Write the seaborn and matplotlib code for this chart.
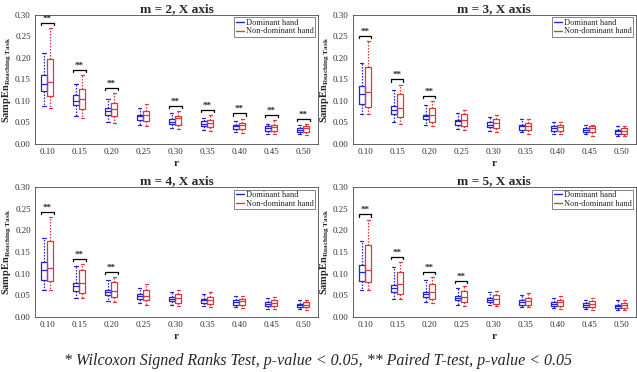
import matplotlib

matplotlib.use("Agg")
import matplotlib.pyplot as plt
import numpy as np
import pandas as pd
import seaborn as sns
from matplotlib.lines import Line2D

sns.set_theme(style="white")
plt.rcParams["font.family"] = ["Liberation Serif", "DejaVu Serif"]
plt.rcParams["mathtext.fontset"] = "custom"
plt.rcParams["mathtext.rm"] = "Liberation Serif"
plt.rcParams["mathtext.bf"] = "Liberation Serif:bold"
plt.rcParams["mathtext.it"] = "Liberation Serif:italic"

R_VALUES = ["0.10", "0.15", "0.20", "0.25", "0.30", "0.35", "0.40", "0.45", "0.50"]
HANDS = ["Dominant hand", "Non-dominant hand"]
COLORS = ["#2323d2", "#e0383a"]

# box stats per r: (whisker low, q1, median, q3, whisker high)
M2_DOMINANT = [
    (0.089, 0.124, 0.140, 0.161, 0.211),
    (0.066, 0.091, 0.101, 0.113, 0.139),
    (0.051, 0.068, 0.076, 0.084, 0.104),
    (0.043, 0.056, 0.064, 0.068, 0.084),
    (0.037, 0.047, 0.052, 0.058, 0.072),
    (0.032, 0.041, 0.046, 0.053, 0.060),
    (0.027, 0.035, 0.041, 0.045, 0.053),
    (0.024, 0.031, 0.036, 0.041, 0.047),
    (0.022, 0.028, 0.033, 0.037, 0.043),
]
M2_NONDOMINANT = [
    (0.084, 0.111, 0.145, 0.198, 0.269),
    (0.060, 0.081, 0.105, 0.128, 0.161),
    (0.049, 0.064, 0.082, 0.095, 0.118),
    (0.041, 0.053, 0.067, 0.077, 0.093),
    (0.035, 0.045, 0.060, 0.066, 0.077),
    (0.029, 0.039, 0.049, 0.056, 0.068),
    (0.026, 0.035, 0.043, 0.049, 0.059),
    (0.022, 0.029, 0.039, 0.045, 0.055),
    (0.020, 0.028, 0.036, 0.041, 0.047),
]
M2_SIG = ["0.10", "0.15", "0.20", "0.30", "0.35", "0.40", "0.45", "0.50"]

M3_DOMINANT = [
    (0.070, 0.094, 0.116, 0.135, 0.189),
    (0.050, 0.070, 0.080, 0.089, 0.125),
    (0.043, 0.058, 0.064, 0.068, 0.091),
    (0.035, 0.045, 0.053, 0.056, 0.073),
    (0.031, 0.039, 0.045, 0.050, 0.063),
    (0.027, 0.033, 0.041, 0.045, 0.058),
    (0.024, 0.031, 0.036, 0.041, 0.050),
    (0.022, 0.027, 0.033, 0.037, 0.045),
    (0.019, 0.024, 0.029, 0.033, 0.041),
]
M3_NONDOMINANT = [
    (0.070, 0.085, 0.121, 0.179, 0.240),
    (0.047, 0.063, 0.084, 0.116, 0.138),
    (0.041, 0.051, 0.068, 0.084, 0.099),
    (0.033, 0.041, 0.055, 0.070, 0.080),
    (0.028, 0.037, 0.049, 0.058, 0.068),
    (0.024, 0.033, 0.041, 0.049, 0.058),
    (0.022, 0.031, 0.039, 0.045, 0.050),
    (0.019, 0.027, 0.036, 0.041, 0.045),
    (0.018, 0.024, 0.031, 0.036, 0.041),
]
M3_SIG = ["0.10", "0.15", "0.20"]

M4_DOMINANT = [
    (0.063, 0.086, 0.109, 0.127, 0.182),
    (0.044, 0.059, 0.071, 0.078, 0.118),
    (0.036, 0.050, 0.057, 0.062, 0.086),
    (0.032, 0.042, 0.049, 0.053, 0.068),
    (0.028, 0.036, 0.042, 0.046, 0.058),
    (0.025, 0.032, 0.038, 0.042, 0.052),
    (0.022, 0.028, 0.034, 0.038, 0.048),
    (0.019, 0.025, 0.030, 0.034, 0.044),
    (0.018, 0.023, 0.027, 0.031, 0.040),
]
M4_NONDOMINANT = [
    (0.063, 0.082, 0.113, 0.175, 0.231),
    (0.044, 0.055, 0.078, 0.109, 0.122),
    (0.035, 0.045, 0.061, 0.081, 0.092),
    (0.028, 0.038, 0.049, 0.062, 0.075),
    (0.026, 0.032, 0.044, 0.053, 0.063),
    (0.023, 0.031, 0.038, 0.046, 0.057),
    (0.021, 0.027, 0.036, 0.042, 0.049),
    (0.018, 0.025, 0.032, 0.038, 0.045),
    (0.017, 0.023, 0.028, 0.034, 0.040),
]
M4_SIG = ["0.10", "0.15", "0.20"]

M5_DOMINANT = [
    (0.062, 0.082, 0.105, 0.121, 0.176),
    (0.042, 0.058, 0.067, 0.073, 0.115),
    (0.034, 0.045, 0.053, 0.058, 0.086),
    (0.028, 0.038, 0.044, 0.048, 0.067),
    (0.027, 0.034, 0.038, 0.044, 0.057),
    (0.023, 0.028, 0.034, 0.038, 0.050),
    (0.021, 0.025, 0.030, 0.034, 0.044),
    (0.018, 0.022, 0.028, 0.032, 0.040),
    (0.017, 0.021, 0.025, 0.028, 0.038),
]
M5_NONDOMINANT = [
    (0.062, 0.080, 0.109, 0.167, 0.225),
    (0.042, 0.054, 0.075, 0.104, 0.127),
    (0.032, 0.042, 0.058, 0.077, 0.092),
    (0.026, 0.035, 0.046, 0.059, 0.071),
    (0.025, 0.030, 0.042, 0.050, 0.059),
    (0.022, 0.028, 0.036, 0.044, 0.055),
    (0.019, 0.025, 0.034, 0.040, 0.048),
    (0.017, 0.022, 0.031, 0.036, 0.044),
    (0.015, 0.021, 0.028, 0.032, 0.040),
]
M5_SIG = ["0.10", "0.15", "0.20", "0.25"]

PANELS = [
    ("m = 2, X axis", M2_DOMINANT, M2_NONDOMINANT, M2_SIG),
    ("m = 3, X axis", M3_DOMINANT, M3_NONDOMINANT, M3_SIG),
    ("m = 4, X axis", M4_DOMINANT, M4_NONDOMINANT, M4_SIG),
    ("m = 5, X axis", M5_DOMINANT, M5_NONDOMINANT, M5_SIG),
]

FOOTNOTE = "* Wilcoxon Signed Ranks Test, p-value < 0.05, ** Paired T-test, p-value < 0.05"


def to_long(dominant, nondominant):
    # five points per box reproduce exactly the five-number summary
    rows = []
    for hand, stats in zip(HANDS, [dominant, nondominant]):
        for r, five in zip(R_VALUES, stats):
            for v in five:
                rows.append({"r": r, "hand": hand, "value": v})
    return pd.DataFrame(rows)


def plot_panel(ax, title, dominant, nondominant, sig):
    df = to_long(dominant, nondominant)
    sns.boxplot(
        data=df,
        x="r",
        y="value",
        hue="hand",
        order=R_VALUES,
        hue_order=HANDS,
        palette=COLORS,
        fill=False,
        width=0.4,
        gap=0.05,
        whis=(0, 100),
        linewidth=0.9,
        whiskerprops=dict(linestyle=(0, (1.2, 1.2)), linewidth=0.9),
        capprops=dict(linewidth=0.9),
        showfliers=False,
        legend=False,
        ax=ax,
    )
    # significance brackets
    for r in sig:
        i = R_VALUES.index(r)
        top = max(dominant[i][4], nondominant[i][4]) + 0.012
        ax.plot(
            [i - 0.2, i - 0.2, i + 0.2, i + 0.2],
            [top - 0.005, top, top, top - 0.005],
            color="black",
            lw=0.9,
        )
        ax.text(i, top + 0.0005, "**", ha="center", va="bottom",
                fontsize=6.5, fontweight="bold")
    ax.set_ylim(0, 0.30)
    ax.set_xlim(-0.38, 8.46)
    ax.set_yticks(np.arange(0, 0.301, 0.05))
    ax.set_yticklabels([f"{t:.2f}" for t in np.arange(0, 0.301, 0.05)])
    ax.set_title(title, fontsize=9.5, fontweight="bold", pad=2)
    ax.set_xlabel("r", fontsize=8, fontweight="bold", labelpad=2)
    ax.set_ylabel(r"$\mathbf{SampEn}_{\mathbf{Reaching\ Task}}$", fontsize=7.5, labelpad=1)
    ax.tick_params(labelsize=6.5, colors="#333333", direction="in", length=2,
                   width=0.5, pad=3)
    for s in ax.spines.values():
        s.set_color("#262626")
        s.set_linewidth(0.5)
    handles = [Line2D([], [], color=c, lw=1) for c in COLORS]
    leg = ax.legend(handles, HANDS, loc="upper right", fontsize=6,
                    frameon=True, fancybox=False, edgecolor="#262626",
                    borderpad=0.2, handlelength=1.0, handletextpad=0.2,
                    labelspacing=0.05, borderaxespad=0.3)
    leg.get_frame().set_linewidth(0.5)


fig = plt.figure(figsize=(6.37, 3.72), dpi=100)
positions = [
    [0.055, 0.613, 0.444, 0.347],
    [0.554, 0.613, 0.444, 0.347],
    [0.055, 0.148, 0.444, 0.349],
    [0.554, 0.148, 0.444, 0.349],
]
for pos, (title, dom, nondom, sig) in zip(positions, PANELS):
    ax = fig.add_axes(pos)
    plot_panel(ax, title, dom, nondom, sig)

fig.text(0.5, 0.008, FOOTNOTE, ha="center", va="bottom", fontsize=11.5, style="italic")

fig.savefig("out.png", dpi=100)
